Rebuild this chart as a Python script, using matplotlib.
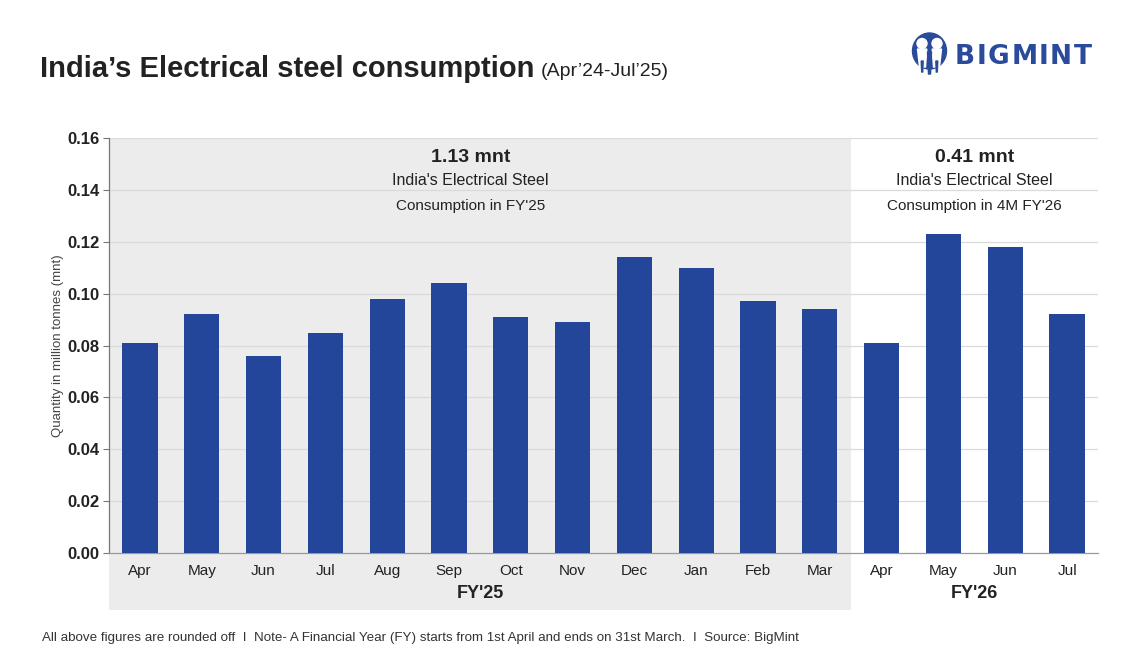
import matplotlib
matplotlib.use("Agg")
import matplotlib.pyplot as plt
from matplotlib.patches import Rectangle, Circle, Ellipse, Polygon
import matplotlib.transforms as mtransforms

# Monthly electrical steel consumption (million tonnes)
months = ["Apr", "May", "Jun", "Jul", "Aug", "Sep", "Oct", "Nov", "Dec", "Jan", "Feb", "Mar",
          "Apr", "May", "Jun", "Jul"]
consumption = [0.081, 0.092, 0.076, 0.085, 0.098, 0.104, 0.091, 0.089, 0.114, 0.110, 0.097, 0.094,
               0.081, 0.123, 0.118, 0.092]
fy_labels = ["FY'25", "FY'26"]
fy_totals = ["1.13 mnt", "0.41 mnt"]
fy_notes = ["Consumption in FY'25", "Consumption in 4M FY'26"]
y_ticks = [0.00, 0.02, 0.04, 0.06, 0.08, 0.10, 0.12, 0.14, 0.16]

plt.rcParams["font.family"] = ["Liberation Sans", "DejaVu Sans"]

BAR = "#24469a"
SHADE = "#ececec"
TXT = "#222222"

W, H = 1130, 670
fig = plt.figure(figsize=(W / 100, H / 100), dpi=100)
fig.patch.set_facecolor("white")


def fx(px):
    return px / W


def fy(py):
    return 1 - py / H


ax = fig.add_axes([fx(109), fy(553), fx(1098) - fx(109), fy(138) - fy(553)])
ax.set_facecolor("none")
n = len(months)
x = list(range(n))
ax.set_xlim(-0.5, n - 0.5)
ax.set_ylim(0, 0.16)

# FY'25 shaded block, extending below the axis to hold the month and year labels
blend = mtransforms.blended_transform_factory(ax.transData, ax.transAxes)
ax.add_patch(Rectangle((-0.5, -0.137), 12, 1.137, transform=blend, facecolor=SHADE,
                       edgecolor="none", clip_on=False, zorder=0))

for t in y_ticks[1:]:
    ax.axhline(t, color="#dadada", lw=0.9, zorder=1)

ax.bar(x, consumption, width=0.57, color=BAR, zorder=3)

ax.set_yticks(y_ticks)
ax.set_yticklabels([f"{t:.2f}" for t in y_ticks], fontsize=12, fontweight="bold", color=TXT)
ax.tick_params(axis="y", length=4, width=0.8, color="#777777", pad=3)
ax.set_xticks(x)
ax.set_xticklabels(months, fontsize=11, color=TXT)
ax.tick_params(axis="x", length=0, pad=8)
for s in ["top", "right"]:
    ax.spines[s].set_visible(False)
ax.spines["left"].set_color("#777777")
ax.spines["bottom"].set_color("#999999")
ax.spines["left"].set_linewidth(0.9)
ax.spines["bottom"].set_linewidth(0.9)

ax.set_ylabel("Quantity in million tonnes (mnt)", fontsize=9.5, color="#444444", labelpad=2)

# Fiscal-year labels and totals
centers = [5.5, 13.5]
for c, lab, tot, note in zip(centers, fy_labels, fy_totals, fy_notes):
    ax.text(c, -0.098, lab, transform=blend, ha="center", va="center", fontsize=13,
            fontweight="bold", color=TXT)
    cx = c - 0.15 if c < 10 else c
    ax.text(cx, 0.952, tot, transform=blend, ha="center", va="center",
            fontsize=14, fontweight="bold", color=TXT)
    ax.text(cx, 0.897, "India's Electrical Steel", transform=blend,
            ha="center", va="center", fontsize=11.5, color=TXT)
    ax.text(cx, 0.835, note, transform=blend, ha="center", va="center",
            fontsize=11, color=TXT)

# Title
title = fig.text(fx(40), fy(69), "India\u2019s Electrical steel consumption", fontsize=21,
                 fontweight="bold", color=TXT, ha="left", va="center")
fig.canvas.draw()
bb = title.get_window_extent()
fig.text(bb.x1 / W + fx(6), fy(71), "(Apr\u201924-Jul\u201925)", fontsize=14, color=TXT,
         ha="left", va="center")

# Logo: letter-spaced word mark
LOGO = "#2a4a9c"
renderer = fig.canvas.get_renderer()
xpos = 955
for ch in "BIGMINT":
    t = fig.text(fx(xpos), fy(57), ch, fontsize=19, fontweight="bold", color=LOGO,
                 ha="left", va="center", family=["DejaVu Sans"])
    xpos += t.get_window_extent(renderer).width + 1.5

# Logo: round emblem with two figures
lax = fig.add_axes([fx(910), fy(78), fx(38), fy(32) - fy(78)])
lax.set_xlim(910, 948)
lax.set_ylim(78, 32)
lax.set_aspect("equal")
lax.axis("off")
lax.add_patch(Ellipse((929.5, 51), 34, 36, color=LOGO))
lax.add_patch(Circle((922.0, 43.5), 5.0, color="white"))
lax.add_patch(Circle((937.0, 43.5), 5.0, color="white"))
lax.add_patch(Polygon([(917.5, 49), (926.8, 49), (925.5, 67), (919.5, 67)], color="white"))
lax.add_patch(Polygon([(932.2, 49), (941.5, 49), (939.5, 67), (933.5, 67)], color="white"))
lax.add_patch(Polygon([(927.5, 52), (931.5, 52), (930.5, 74), (928.5, 74)], color=LOGO))
lax.add_patch(Polygon([(921.2, 61), (923.2, 61), (922.7, 72), (921.7, 72)], color=LOGO))
lax.add_patch(Polygon([(935.8, 61), (937.8, 61), (937.3, 72), (936.3, 72)], color=LOGO))

# Footnote
fig.text(fx(42), fy(638), "All above figures are rounded off  I  Note- A Financial Year (FY) starts from "
         "1st April and ends on 31st March.  I  Source: BigMint", fontsize=9.6, color="#333333",
         ha="left", va="center")

fig.savefig("out.png", dpi=100)
